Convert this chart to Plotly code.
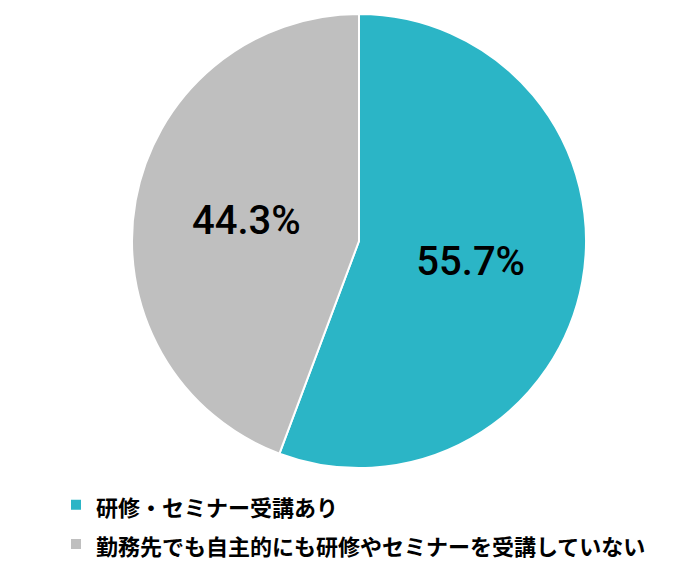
import plotly.graph_objects as go

labels = ["研修・セミナー受講あり", "勤務先でも自主的にも研修やセミナーを受講していない"]
values = [55.7, 44.3]
colors = ["#2BB5C6", "#BFBFBF"]

legend_names = [f"<span style='font-size:22px'>{l}</span>" for l in labels]

fig = go.Figure(go.Pie(
    labels=legend_names,
    values=values,
    customdata=labels,
    sort=False,
    direction="clockwise",
    rotation=0,
    marker=dict(colors=colors, line=dict(color="white", width=2)),
    texttemplate="%{value:.1f}%",
    textposition="inside",
    insidetextorientation="horizontal",
    textfont=dict(family="Roboto", size=40, color="black", weight=500),
    hovertemplate="%{customdata}: %{value:.1f}%<extra></extra>",
    domain=dict(x=[124/692, 578/692], y=[110/570, 564/570]),
))

fig.update_layout(
    width=692, height=570,
    margin=dict(l=0, r=0, t=0, b=0),
    paper_bgcolor="white",
    plot_bgcolor="white",
    showlegend=True,
    legend=dict(
        x=48/692, y=(570-472)/570, xanchor="left", yanchor="top",
        orientation="v",
        font=dict(family="Noto Sans CJK JP", size=28, color="black", weight=700),
        itemwidth=30,
        traceorder="normal",
    ),
)

fig.write_html("out.html")
